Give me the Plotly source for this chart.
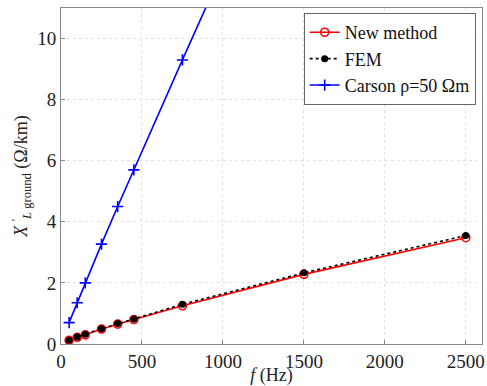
import plotly.graph_objects as go

freq = [50, 100, 150, 250, 350, 450, 750, 1500, 2500]
new_method = [0.12, 0.22, 0.30, 0.49, 0.65, 0.80, 1.25, 2.28, 3.48]
fem = [0.12, 0.23, 0.32, 0.50, 0.67, 0.82, 1.30, 2.33, 3.55]
carson = [0.70, 1.35, 2.00, 3.27, 4.50, 5.70, 9.30, 18.2, 30.0]

font_family = "Times New Roman"

fig = go.Figure()
fig.add_trace(go.Scatter(
    x=freq, y=new_method, mode="lines+markers", name="New method",
    line=dict(color="#ff0000", width=1.6),
    marker=dict(symbol="circle-open", size=8, color="#ff0000", line=dict(width=1.6)),
    cliponaxis=True))
fig.add_trace(go.Scatter(
    x=freq, y=fem, mode="lines+markers", name="FEM",
    line=dict(color="#000000", width=1.6, dash="dot"),
    marker=dict(symbol="circle", size=7, color="#000000"),
    cliponaxis=True))
fig.add_trace(go.Scatter(
    x=freq, y=carson, mode="lines+markers", name="Carson ρ=50 Ωm",
    line=dict(color="#0000ff", width=1.6),
    marker=dict(symbol="cross-thin", size=8, color="#0000ff", line=dict(width=1.6, color="#0000ff")),
    cliponaxis=True))

axis_common = dict(
    showline=True, linecolor="#888888", linewidth=1, mirror=True,
    showgrid=True, gridcolor="#e2e2e2", griddash="dot", gridwidth=1,
    ticks="inside", ticklen=4, tickcolor="#888888",
    zeroline=False, ticklabeloverflow="allow",
    tickfont=dict(family=font_family, size=19, color="#222222"),
)

fig.update_layout(
    width=487, height=386,
    margin=dict(l=61, r=2, t=8, b=42),
    paper_bgcolor="white", plot_bgcolor="white",
    font=dict(family=font_family, size=18, color="#222222"),
    showlegend=True,
    legend=dict(
        x=0.985, y=0.985, xanchor="right", yanchor="top",
        bgcolor="white", bordercolor="#666666", borderwidth=1,
        font=dict(family=font_family, size=18, color="#111111"),
        tracegroupgap=0, itemwidth=30,
    ),
    xaxis=dict(range=[0, 2600], tickvals=[0, 500, 1000, 1500, 2000, 2500],
               title=dict(text="<i>f</i> (Hz)", standoff=0,
                          font=dict(family=font_family, size=18)),
               **axis_common),
    yaxis=dict(range=[0, 11], tickvals=[0, 2, 4, 6, 8, 10],
               title=dict(text="<i>X</i> <sup>'</sup><sub><i>L</i> ground</sub> (Ω/km)", standoff=4,
                          font=dict(family=font_family, size=18)),
               **axis_common),
)

fig.write_html("out.html")
